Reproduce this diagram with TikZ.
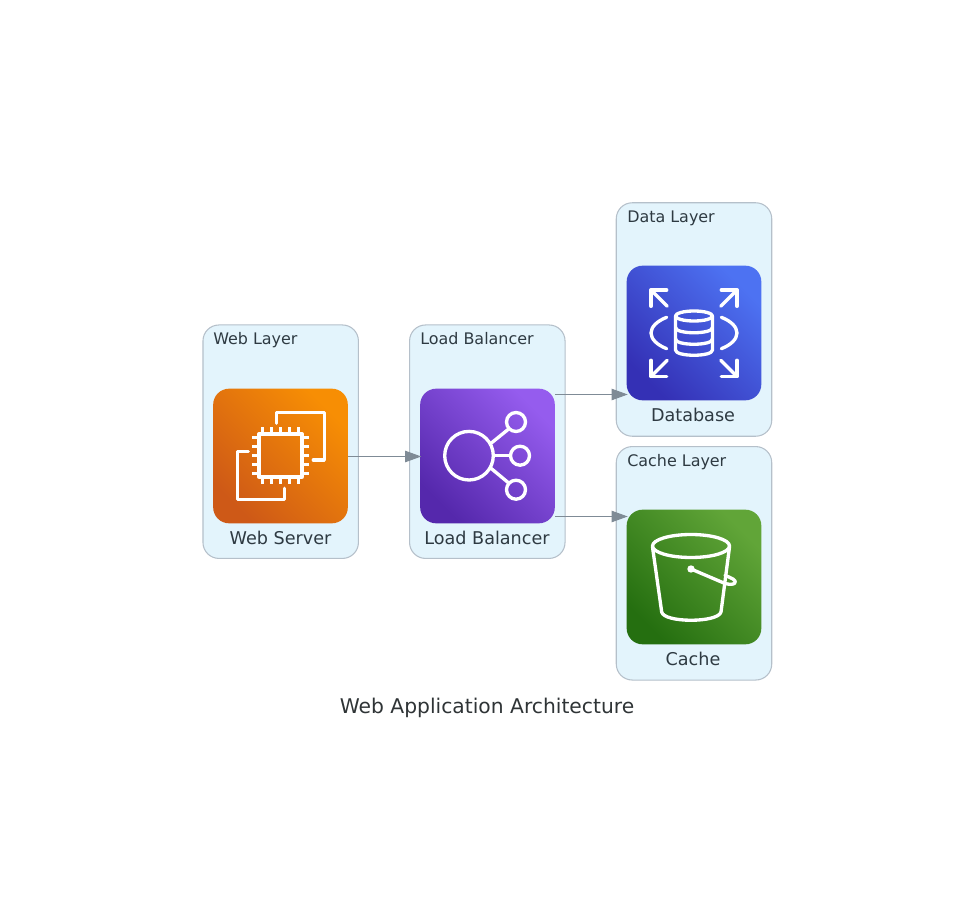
\documentclass[tikz,border=0pt]{standalone}
\usepackage{fontspec}
\setmainfont{DejaVu Sans}
\usepackage{xcolor}
\usetikzlibrary{arrows.meta,positioning,calc}
\definecolor{frameFill}{HTML}{E3F4FC}
\definecolor{frameLine}{HTML}{B5C0CA}
\definecolor{flowLine}{HTML}{7F8B96}
\definecolor{textDark}{HTML}{2E3A42}
\definecolor{captionDark}{HTML}{2F3436}
\definecolor{webLow}{HTML}{CE5917}
\definecolor{webHigh}{HTML}{F78E04}
\definecolor{lbLow}{HTML}{5528AC}
\definecolor{lbHigh}{HTML}{955CEE}
\definecolor{dataLow}{HTML}{3430B5}
\definecolor{dataHigh}{HTML}{4D72F2}
\definecolor{cacheLow}{HTML}{256F10}
\definecolor{cacheHigh}{HTML}{61A538}

\begin{document}
\begin{tikzpicture}[
    x=0.75pt, y=-0.75pt,
    layer/.style={rectangle, draw=frameLine, fill=frameFill, line width=0.8pt, minimum width=116.6pt, minimum height=175.1pt, rounded corners=12pt},
    layertitle/.style={anchor=base west, inner sep=0pt, text=textDark, font=\fontsize{11.95pt}{14pt}\selectfont},
    iconbox/.style={rectangle, draw=none, minimum width=101pt, minimum height=101pt, rounded corners=12pt, bottom color=#1Low, top color=#1High, shading angle=-45},
    iconlabel/.style={inner sep=0pt, text=textDark, font=\fontsize{13.2pt}{15pt}\selectfont},
    glyph/.style={draw=white, line width=2.5pt, line join=round, line cap=round},
    flow/.style={draw=flowLine, line width=0.8pt, -{Triangle[length=12pt,width=8.5pt]}}
]
    \useasboundingbox (0,0) rectangle (975,916);

    \node[layer] (weblayer) at (280.7,441.7) {};
    \node[layer] (lblayer) at (487.3,441.7) {};
    \node[layer] (datalayer) at (694,319.5) {};
    \node[layer] (cachelayer) at (694,563.3) {};
    \node[layertitle] (webtitle) at (213,344.5) {Web Layer};
    \node[layertitle] (lbtitle) at (420,344.5) {Load Balancer};
    \node[layertitle] (datatitle) at (627,222.5) {Data Layer};
    \node[layertitle] (cachetitle) at (627,466.5) {Cache Layer};

    \node[iconbox=web] (web) at (280.5,456) {};
    \node[iconbox=lb] (lb) at (487.5,456) {};
    \node[iconbox=data] (data) at (694,333) {};
    \node[iconbox=cache] (cache) at (694,577) {};
    \node[iconlabel] (weblabel) at (280.5,538) {Web Server};
    \node[iconlabel] (lblabel) at (487,538) {Load Balancer};
    \node[iconlabel] (datalabel) at (693,415) {Database};
    \node[iconlabel] (cachelabel) at (693,659) {Cache};
    \node[inner sep=0pt, text=captionDark, font=\fontsize{15.2pt}{18pt}\selectfont] (caption) at (487,708) {Web Application Architecture};

    % web server glyph
    \draw[glyph] (259,434) rectangle (302,477);
    \foreach \d in {-18,-9,0,9,18} {
        \draw[glyph, line cap=butt] (280.5+\d,434) -- (280.5+\d,427);
        \draw[glyph, line cap=butt] (280.5+\d,477) -- (280.5+\d,484);
        \draw[glyph, line cap=butt] (259,455.5+\d) -- (252,455.5+\d);
        \draw[glyph, line cap=butt] (302,455.5+\d) -- (309,455.5+\d);
    }
    \draw[glyph] (276.7,423.3) -- (276.7,412.3) -- (324.3,412.3) -- (324.3,460) -- (313.3,460);
    \draw[glyph] (248.3,451.7) -- (237.3,451.7) -- (237.3,499.3) -- (284.3,499.3) -- (284.3,488.3);

    % load balancer glyph
    \draw[glyph] (469,455.7) circle[radius=24.3];
    \draw[glyph] (516,422) circle[radius=9.5];
    \draw[glyph] (520,455.7) circle[radius=9.5];
    \draw[glyph] (516,489.7) circle[radius=9.5];
    \draw[glyph] (491,443.3) -- (508.3,429.3);
    \draw[glyph] (494.3,455.7) -- (510,455.7);
    \draw[glyph] (491,468.3) -- (508.3,482.7);

    % database glyph
    \draw[glyph] (694,316) ellipse[x radius=18.5, y radius=5];
    \draw[glyph] (675.5,316) -- (675.5,350) .. controls (675.5,357) and (712.5,357) .. (712.5,350) -- (712.5,316);
    \draw[glyph] (675.5,327.5) .. controls (675.5,334.5) and (712.5,334.5) .. (712.5,327.5);
    \draw[glyph] (675.5,339) .. controls (675.5,346) and (712.5,346) .. (712.5,339);
    \draw[glyph] (666.7,317.3) .. controls (657,321) and (651,327) .. (651,333) .. controls (651,339) and (657,345) .. (666.7,348.7);
    \draw[glyph] (721.3,317.3) .. controls (731,321) and (737,327) .. (737,333) .. controls (737,339) and (731,345) .. (721.3,348.7);
    \draw[glyph] (651,306.3) -- (651,290) -- (666.7,290);
    \draw[glyph] (651,290) -- (667.3,306.3);
    \draw[glyph] (737,306.3) -- (737,290) -- (721.3,290);
    \draw[glyph] (737,290) -- (720.7,306.3);
    \draw[glyph] (651,360.3) -- (651,376.5) -- (666.7,376.5);
    \draw[glyph] (651,376.5) -- (667.3,360.3);
    \draw[glyph] (737,360.3) -- (737,376.5) -- (721.3,376.5);
    \draw[glyph] (737,376.5) -- (720.7,360.3);

    % cache glyph
    \draw[glyph] (691,546) ellipse[x radius=38.5, y radius=11.5];
    \draw[glyph] (652.5,547) -- (661.7,612) .. controls (664,623) and (718,623) .. (721,612) -- (729.5,547);
    \fill[white] (691,569) circle[radius=3.7];
    \draw[glyph] (691,569) -- (725,583.5) .. controls (735,586) and (738,582) .. (733,579) .. controls (730,577) and (727,576.5) .. (725,575.5);

    \draw[flow] ([yshift=-0.375pt]web.east) -- ([xshift=1pt,yshift=-0.375pt]lb.west);
    \draw[flow] ([yshift=46.125pt]lb.east) -- ([xshift=1pt,yshift=-46.125pt]data.west);
    \draw[flow] ([yshift=-45.375pt]lb.east) -- ([xshift=1pt,yshift=45.375pt]cache.west);
\end{tikzpicture}
\end{document}
